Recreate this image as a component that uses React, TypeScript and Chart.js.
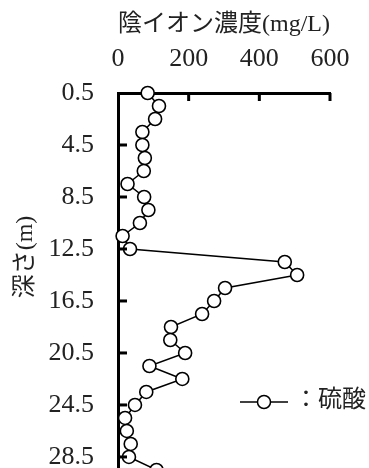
import React, { useEffect, useRef } from "react";
import { Chart, registerables } from "chart.js";

Chart.register(...registerables);

const depths = [0.5, 1.5, 2.5, 3.5, 4.5, 5.5, 6.5, 7.5, 8.5, 9.5, 10.5, 11.5, 12.5, 13.5, 14.5, 15.5, 16.5, 17.5, 18.5, 19.5, 20.5, 21.5, 22.5, 23.5, 24.5, 25.5, 26.5, 27.5, 28.5, 29.5];
const sulfate = [84, 116, 105, 69, 69, 76, 73, 27, 74, 86, 62, 13, 34, 472, 507, 303, 272, 238, 150, 148, 190, 89, 182, 80, 48, 20, 25, 36, 31, 109];
const yTicks = [0.5, 4.5, 8.5, 12.5, 16.5, 20.5, 24.5, 28.5];
const xTicks = [0, 200, 400, 600];
const xTitle = "陰イオン濃度(mg/L)";
const yTitle = "深さ(m)";
const seriesLabel = "硫酸";

const SERIF = "'Liberation Serif', 'Noto Sans CJK JP', serif";

const decorPlugin = {
  id: "decor",
  afterDraw(chart: any) {
    const { ctx, chartArea, scales } = chart;
    const xs = scales.x;
    const ys = scales.y;
    ctx.save();
    ctx.strokeStyle = "#000";
    ctx.lineWidth = 3;
    ctx.lineCap = "butt";
    xTicks.forEach((v) => {
      if (v === xs.min) return;
      const px = xs.getPixelForValue(v);
      ctx.beginPath();
      ctx.moveTo(px, chartArea.top);
      ctx.lineTo(px, chartArea.top + 8);
      ctx.stroke();
    });
    yTicks.forEach((v) => {
      if (v === ys.min) return;
      const py = ys.getPixelForValue(v);
      ctx.beginPath();
      ctx.moveTo(chartArea.left, py);
      ctx.lineTo(chartArea.left + 9, py);
      ctx.stroke();
    });
    ctx.fillStyle = "#222";
    ctx.font = "24px " + SERIF;
    ctx.textAlign = "center";
    ctx.textBaseline = "middle";
    ctx.translate(26, 257);
    ctx.rotate(-Math.PI / 2);
    ctx.fillText(yTitle, 0, 0);
    ctx.restore();

    ctx.save();
    const ly = 402;
    ctx.strokeStyle = "#000";
    ctx.lineWidth = 1.5;
    ctx.beginPath();
    ctx.moveTo(240, ly);
    ctx.lineTo(288, ly);
    ctx.stroke();
    ctx.beginPath();
    ctx.arc(264, ly, 6.5, 0, Math.PI * 2);
    ctx.fillStyle = "#fff";
    ctx.fill();
    ctx.stroke();
    ctx.fillStyle = "#222";
    ctx.font = "24px " + SERIF;
    ctx.textAlign = "left";
    ctx.textBaseline = "middle";
    ctx.fillText("：" + seriesLabel, 294, ly - 1);
    ctx.restore();
  },
};

export default function App() {
  const ref = useRef<HTMLCanvasElement>(null);
  useEffect(() => {
    document.body.style.margin = "0";
    const chart = new Chart(ref.current as HTMLCanvasElement, {
      type: "scatter",
      data: {
        datasets: [
          {
            label: seriesLabel,
            data: depths.map((d, i) => ({ x: sulfate[i], y: d })),
            showLine: true,
            borderColor: "#000",
            borderWidth: 1.5,
            pointRadius: 6.5,
            pointBorderWidth: 1.6,
            pointBackgroundColor: "#fff",
            pointBorderColor: "#000",
            clip: false as any,
          },
        ],
      },
      options: {
        animation: false,
        responsive: false,
        layout: { autoPadding: false, padding: { left: 0, right: 39, top: 0, bottom: 0 } },
        plugins: { legend: { display: false }, tooltip: { enabled: false } },
        scales: {
          x: {
            type: "linear",
            position: "top",
            min: 0,
            max: 600,
            afterBuildTicks: (s: any) => {
              s.ticks = xTicks.map((v) => ({ value: v }));
            },
            afterFit: (s: any) => {
              s.height = 93;
              s.paddingLeft = 0;
              s.paddingRight = 0;
            },
            grid: { display: false, drawTicks: false },
            border: { display: true, color: "#000", width: 3 },
            ticks: {
              color: "#222",
              font: { family: SERIF, size: 26 },
              padding: 18,
              maxRotation: 0,
              callback: (v: any) => String(v),
            },
            title: {
              display: true,
              text: xTitle,
              color: "#222",
              font: { family: SERIF, size: 24 },
              padding: { top: 10, bottom: 0 },
            },
          },
          y: {
            type: "linear",
            reverse: true,
            min: 0.5,
            max: 29.35,
            afterBuildTicks: (s: any) => {
              s.ticks = yTicks.map((v) => ({ value: v }));
            },
            afterFit: (s: any) => {
              s.width = 118;
              s.paddingTop = 0;
              s.paddingBottom = 0;
            },
            grid: { display: false, drawTicks: false },
            border: { display: true, color: "#000", width: 3 },
            ticks: {
              color: "#222",
              font: { family: SERIF, size: 26 },
              padding: 24,
              callback: (v: any) => String(v),
            },
          },
        },
      },
      plugins: [decorPlugin],
    });
    return () => chart.destroy();
  }, []);
  return (
    <div style={{ position: "fixed", left: 0, top: 0, width: 369, height: 468 }}>
      <canvas ref={ref} width={369} height={468} />
    </div>
  );
}
